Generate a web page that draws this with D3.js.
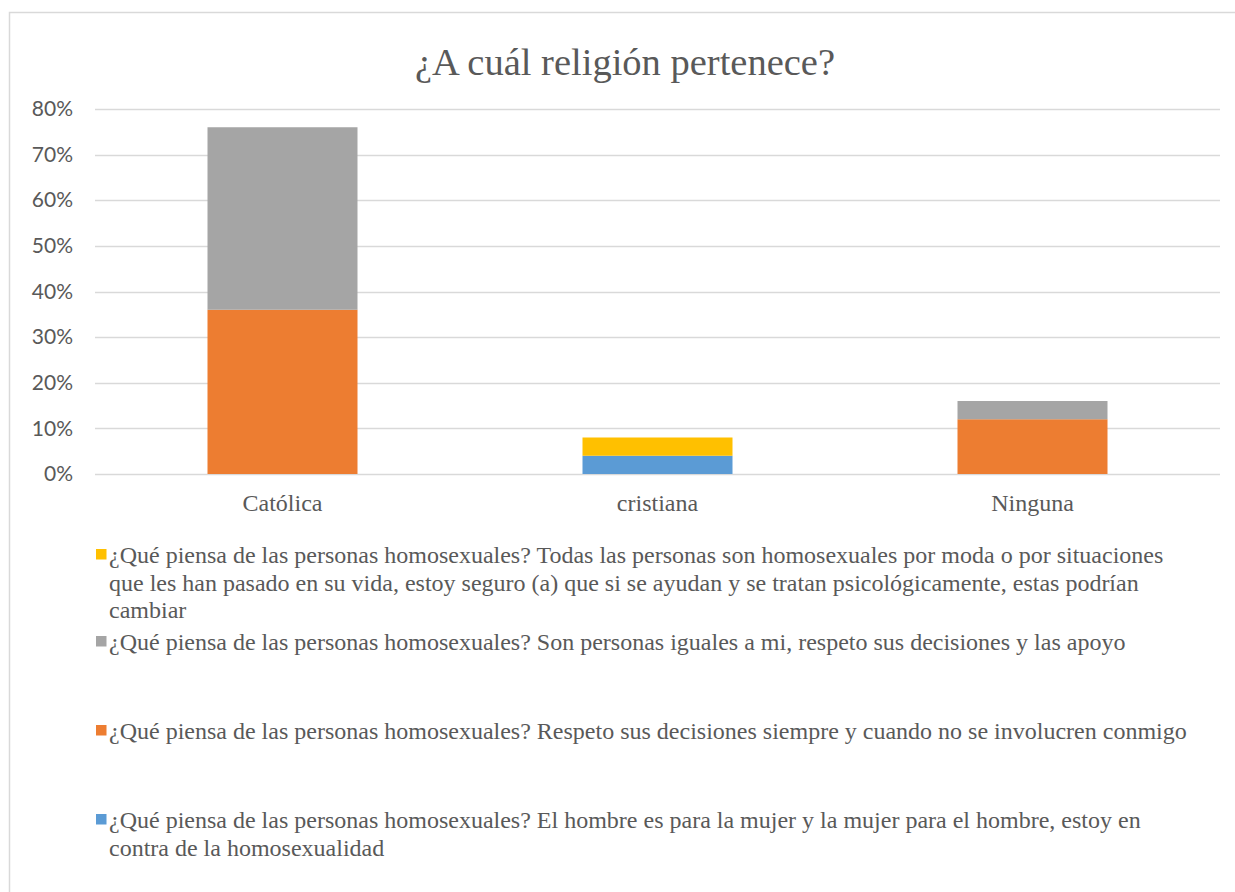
<!DOCTYPE html>
<html><head><meta charset="utf-8">
<script src="https://cdn.jsdelivr.net/npm/d3@7"></script>
<style>body{margin:0;background:#fff}svg{display:block}</style>
</head><body>
<svg id="c" width="1235" height="892"></svg>
<script>
const title = "¿A cuál religión pertenece?";
const categories = ["Católica", "cristiana", "Ninguna"];
const yTicks = [0, 0.1, 0.2, 0.3, 0.4, 0.5, 0.6, 0.7, 0.8];
// stacked bottom -> top
const seriesNames = [
  "¿Qué piensa de las personas homosexuales? El hombre es para la mujer y la mujer para el hombre, estoy en\ncontra de la homosexualidad",
  "¿Qué piensa de las personas homosexuales? Respeto sus decisiones siempre y cuando no se involucren conmigo",
  "¿Qué piensa de las personas homosexuales? Son personas iguales a mi, respeto sus decisiones y las apoyo",
  "¿Qué piensa de las personas homosexuales? Todas las personas son homosexuales por moda o por situaciones\nque les han pasado en su vida, estoy seguro (a) que si se ayudan y se tratan psicológicamente, estas podrían\ncambiar"
];
const seriesColors = ["#5B9BD5", "#ED7D31", "#A5A5A5", "#FFC000"];
const sHombreMujer = [0, 0.04, 0];
const sRespetoSiempre = [0.36, 0, 0.12];
const sIguales = [0.40, 0, 0.04];
const sModa = [0, 0.04, 0];
const seriesValues = [sHombreMujer, sRespetoSiempre, sIguales, sModa];

const svg = d3.select("#c");
const textColor = "#595959";
const serif = "'Liberation Serif','Times New Roman',serif";
const sans = "Lato,'Open Sans',sans-serif";

// chart border
svg.append("rect").attr("x", 9.5).attr("y", 12.5).attr("width", 1240).attr("height", 900)
  .attr("fill", "none").attr("stroke", "#d9d9d9").attr("stroke-width", 1.5);

svg.append("text").attr("x", 625).attr("y", 75).attr("text-anchor", "middle")
  .attr("font-family", serif).attr("font-size", 38.5).attr("fill", textColor).text(title);

const x = d3.scaleBand().domain(categories).range([95, 1220]).paddingInner(0.6).paddingOuter(0.3);
const y = d3.scaleLinear().domain([0, 0.8]).range([474, 109]);

// gridlines
svg.append("g").selectAll("line").data(yTicks).join("line")
  .attr("x1", 95).attr("x2", 1220).attr("y1", d => Math.round(y(d)) + 0.5).attr("y2", d => Math.round(y(d)) + 0.5)
  .attr("stroke", "#d9d9d9").attr("stroke-width", 1.3);

// y axis labels
const yAxis = svg.append("g").attr("transform", "translate(80,0)")
  .call(d3.axisLeft(y).tickValues(yTicks).tickFormat(d3.format(".0%")).tickSize(0).tickPadding(7));
yAxis.select(".domain").remove();
yAxis.selectAll("text").attr("font-family", sans).attr("font-size", 21).attr("fill", textColor);

// stacked bars
const table = categories.map((c, i) => {
  const o = {cat: c};
  seriesValues.forEach((s, k) => o["s" + k] = s[i]);
  return o;
});
const stack = d3.stack().keys(seriesValues.map((s, k) => "s" + k))(table);
svg.append("g").selectAll("g").data(stack).join("g")
  .attr("fill", (d, k) => seriesColors[k])
  .selectAll("rect").data(d => d).join("rect")
  .attr("x", d => x(d.data.cat)).attr("width", x.bandwidth())
  .attr("y", d => y(d[1])).attr("height", d => y(d[0]) - y(d[1]));

// x labels
const xAxis = svg.append("g").attr("transform", "translate(0,474)")
  .call(d3.axisBottom(x).tickSize(0).tickPadding(20));
xAxis.select(".domain").remove();
xAxis.selectAll("text").attr("font-family", serif).attr("font-size", 24).attr("fill", textColor);

// legend (top to bottom: reverse of stack order)
const legendOrder = [3, 2, 1, 0];
const legendBase = [563, 650, 739, 828];
const lg = svg.append("g");
legendOrder.forEach((k, i) => {
  const g = lg.append("g");
  g.append("rect").attr("x", 96).attr("y", legendBase[i] - 14).attr("width", 10.5).attr("height", 10.5)
    .attr("fill", seriesColors[k]);
  const t = g.append("text").attr("font-family", serif).attr("font-size", 24).attr("fill", textColor);
  seriesNames[k].split("\n").forEach((line, j) => {
    t.append("tspan").attr("x", 109).attr("y", legendBase[i] + j * 27.5).text(line);
  });
});
</script>
</body></html>
